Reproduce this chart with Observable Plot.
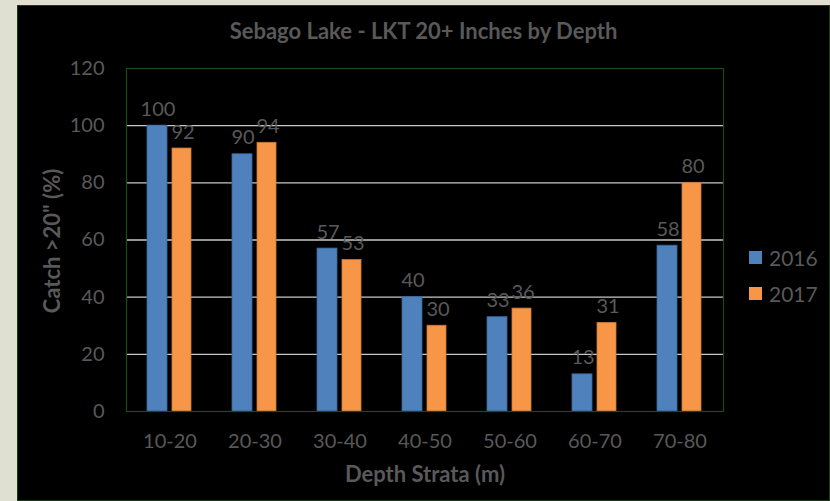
<!DOCTYPE html>
<html>
<head>
<meta charset="utf-8">
<script src="https://cdn.jsdelivr.net/npm/d3@7"></script>
<script src="https://cdn.jsdelivr.net/npm/@observablehq/plot@0.6"></script>
<style>
  html, body { margin: 0; padding: 0; }
  body { background: #dfe0d2; width: 830px; height: 501px; overflow: hidden; font-family: Lato, "Open Sans", sans-serif; }
  #panel { position: absolute; left: 17px; top: 5px; width: 811px; height: 494px; background: #000; border: 1px solid #173d17; }
  #chart { position: absolute; left: 0; top: 0; }
  .t { position: absolute; color: #595959; white-space: nowrap; font-family: Lato, "Open Sans", sans-serif; }
  #title { left: 0; width: 811px; top: 11px; text-align: center; font-size: 22px; font-weight: bold; }
  #ytitle { left: 33px; top: 235px; font-size: 22px; font-weight: bold; transform: translate(-50%, -50%) rotate(-90deg); }
  #xtitle { left: 109px; width: 596px; top: 454px; text-align: center; font-size: 22px; font-weight: bold; }
  #legend { left: 731px; top: 233px; font-size: 21px; }
  .li { display: flex; align-items: center; height: 36px; }
  .sw { width: 13px; height: 13px; margin-right: 7px; }
</style>
</head>
<body>
<div id="panel">
  <div id="chart"></div>
  <div class="t" id="title"></div>
  <div class="t" id="ytitle"></div>
  <div class="t" id="xtitle"></div>
  <div class="t" id="legend"></div>
</div>
<script>
const titleText = "Sebago Lake - LKT 20+ Inches by Depth";
const xTitle = "Depth Strata (m)";
const yTitle = "Catch >20\" (%)";
const depths = ["10-20", "20-30", "30-40", "40-50", "50-60", "60-70", "70-80"];
const seriesNames = ["2016", "2017"];
const values2016 = [100, 90, 57, 40, 33, 13, 58];
const values2017 = [92, 94, 53, 30, 36, 31, 80];
const yTicks = [0, 20, 40, 60, 80, 100, 120];
const gridTicks = [20, 40, 60, 80, 100];
const colors = ["#4f81bd", "#f79646"];
const strokes = ["#3b6696", "#c9783a"];

const d16 = depths.map((d, i) => ({depth: d, value: values2016[i], series: seriesNames[0]}));
const d17 = depths.map((d, i) => ({depth: d, value: values2017[i], series: seriesNames[1]}));

document.getElementById("title").textContent = titleText;
document.getElementById("xtitle").textContent = xTitle;
document.getElementById("ytitle").textContent = yTitle;
const leg = document.getElementById("legend");
seriesNames.forEach((s, i) => {
  const row = document.createElement("div"); row.className = "li";
  const sw = document.createElement("span"); sw.className = "sw"; sw.style.background = colors[i];
  const tx = document.createElement("span"); tx.textContent = s;
  row.appendChild(sw); row.appendChild(tx); leg.appendChild(row);
});

const labelStyle = {fill: "#595959", fontSize: 20, lineAnchor: "bottom", dy: -10};
const chart = Plot.plot({
  width: 811,
  height: 494,
  marginLeft: 108,
  marginRight: 106,
  marginTop: 62,
  marginBottom: 89,
  style: {background: "transparent", color: "#595959", fontFamily: "Lato, 'Open Sans', sans-serif", fontSize: "20px", overflow: "visible"},
  x: {domain: depths, padding: 0, label: null, tickSize: 0, tickPadding: 22},
  y: {domain: [0, 120], ticks: yTicks, label: null, tickSize: 0, tickPadding: 22},
  marks: [
    Plot.ruleY(gridTicks, {stroke: "#c8c8c8", strokeWidth: 1.3}),
    Plot.barY(d16, {x: "depth", y: "value", fill: colors[0], stroke: strokes[0], strokeWidth: 0.8, insetLeft: 20, insetRight: 45}),
    Plot.barY(d17, {x: "depth", y: "value", fill: colors[1], stroke: strokes[1], strokeWidth: 0.8, insetLeft: 45, insetRight: 21}),
    Plot.frame({stroke: "#1c4a1c", strokeWidth: 1.2}),
    Plot.text(d16, {x: "depth", y: "value", text: d => String(d.value), dx: -12, ...labelStyle}),
    Plot.text(d17, {x: "depth", y: "value", text: d => String(d.value), dx: 13, ...labelStyle})
  ]
});
document.getElementById("chart").appendChild(chart);
</script>
</body>
</html>
